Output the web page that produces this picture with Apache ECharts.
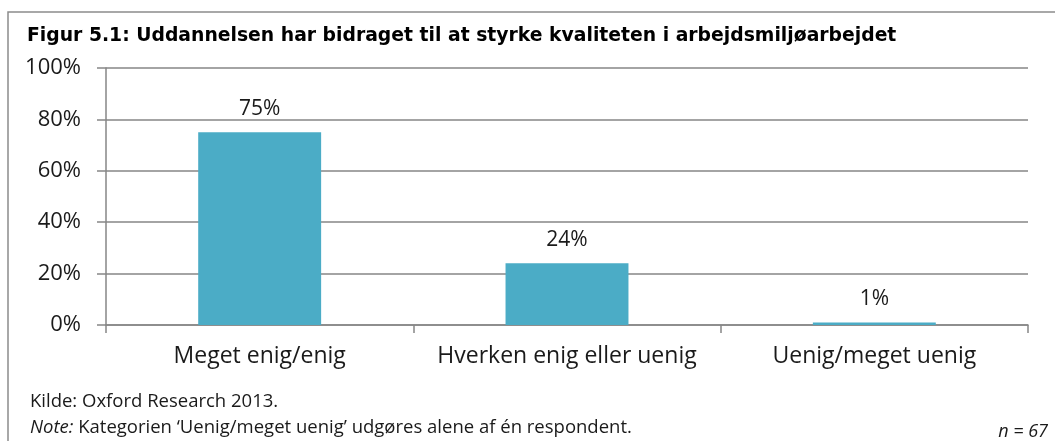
<!DOCTYPE html>
<html><head><meta charset="utf-8">
<script src="https://cdn.jsdelivr.net/npm/echarts@6/dist/echarts.min.js"></script>
<style>html,body{margin:0;padding:0;background:#fff}#c{width:1055px;height:441px}</style>
</head><body><div id="c"></div>
<script>
const categories = ['Meget enig/enig', 'Hverken enig eller uenig', 'Uenig/meget uenig'];
const values = [75, 24, 1];
const yTicks = [0, 20, 40, 60, 80, 100];
const titleText = 'Figur 5.1: Uddannelsen har bidraget til at styrke kvaliteten i arbejdsmiljøarbejdet';
const sourceText = 'Kilde: Oxford Research 2013.';
const noteLabel = 'Note:';
const noteText = ' Kategorien ‘Uenig/meget uenig’ udgøres alene af én respondent.';
const nText = 'n = 67';

const chart = echarts.init(document.getElementById('c'), null, {renderer: 'canvas'});
const font = '"Open Sans", sans-serif';
chart.setOption({
  animation: false,
  backgroundColor: '#fff',
  grid: {left: 106, right: 27, top: 68, bottom: 116},
  xAxis: {
    type: 'category', data: categories,
    axisLine: {lineStyle: {color: '#868686', width: 1.5}},
    axisTick: {show: true, length: 8, lineStyle: {color: '#868686', width: 1.5}},
    axisLabel: {color: '#1a1a1a', fontSize: 23, fontFamily: font, margin: 20, interval: 0, hideOverlap: false}
  },
  yAxis: {
    type: 'value', min: yTicks[0], max: yTicks[yTicks.length - 1], interval: 20,
    axisLine: {show: true, lineStyle: {color: '#868686', width: 1.5}},
    axisTick: {show: true, length: 9, lineStyle: {color: '#868686', width: 1.5}},
    splitLine: {lineStyle: {color: '#868686', width: 1.5}},
    axisLabel: {color: '#1a1a1a', fontSize: 22, fontFamily: font, margin: 25, formatter: v => v + '%'}
  },
  series: [{
    type: 'bar', data: values, barWidth: '40%',
    itemStyle: {color: '#4BACC6'},
    label: {show: true, position: 'top', distance: 13, color: '#1a1a1a', fontSize: 21, fontFamily: font, formatter: p => p.value + '%'}
  }],
  graphic: [
    {type: 'rect', shape: {x: 8, y: 12, width: 1100, height: 500}, style: {fill: 'none', stroke: '#8c8c8c', lineWidth: 1.5}, silent: true, z: -1},
    {type: 'text', left: 27, top: 27, style: {text: titleText, font: 'bold 18.8px Verdana, "DejaVu Sans", sans-serif', fill: '#000'}},
    {type: 'text', left: 30, top: 392, style: {text: sourceText, font: '18.5px ' + font, fill: '#1a1a1a'}},
    {type: 'text', left: 30, top: 418, style: {
      text: '{i|' + noteLabel + '}{r|' + noteText + '}',
      rich: {i: {font: 'italic 18.5px ' + font, fill: '#1a1a1a'}, r: {font: '18.5px ' + font, fill: '#1a1a1a'}}
    }},
    {type: 'text', right: 7, top: 423, style: {text: nText, font: 'italic 18px ' + font, fill: '#1a1a1a'}}
  ]
});
</script></body></html>
